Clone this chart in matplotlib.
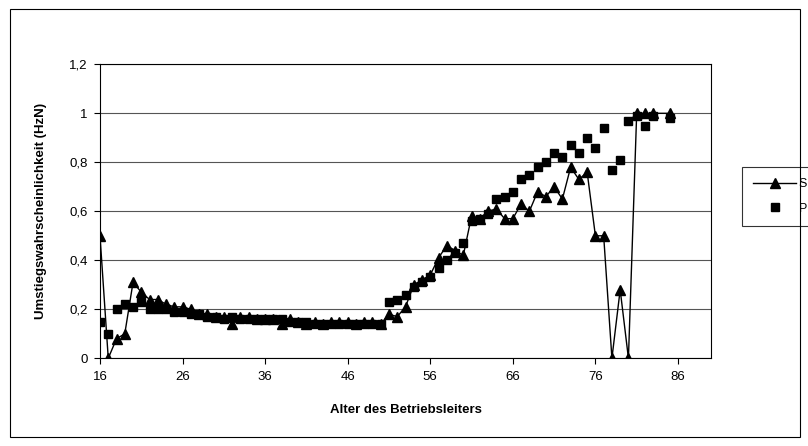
import matplotlib
matplotlib.use('Agg')
import matplotlib.pyplot as plt
from matplotlib.patches import Rectangle

plt.rcParams['font.family'] = ['Liberation Sans', 'DejaVu Sans']

# Alter (84 fehlt in beiden Reihen)
ages = list(range(16, 84)) + [85]

s_values = [0.50, 0.00, 0.08, 0.10, 0.31, 0.27, 0.24, 0.24, 0.22, 0.21,
            0.21, 0.20, 0.18, 0.18, 0.17, 0.17, 0.14, 0.17, 0.17, 0.16,
            0.16, 0.16, 0.14, 0.16, 0.15, 0.14, 0.15, 0.14, 0.15, 0.15,
            0.15, 0.14, 0.15, 0.15, 0.14, 0.18, 0.17, 0.21, 0.30, 0.32,
            0.34, 0.41, 0.46, 0.44, 0.42, 0.58, 0.57, 0.60, 0.61, 0.57,
            0.57, 0.63, 0.60, 0.68, 0.66, 0.70, 0.65, 0.78, 0.73, 0.76,
            0.50, 0.50, 0.00, 0.28, 0.00, 1.00, 1.00, 1.00, 1.00]

p_values = [0.15, 0.10, 0.20, 0.22, 0.21, 0.23, 0.20, 0.20, 0.20, 0.19,
            0.19, 0.18, 0.18, 0.17, 0.17, 0.16, 0.17, 0.16, 0.16, 0.16,
            0.16, 0.16, 0.16, 0.15, 0.15, 0.15, 0.14, 0.14, 0.14, 0.14,
            0.14, 0.14, 0.14, 0.14, 0.14, 0.23, 0.24, 0.26, 0.29, 0.31,
            0.33, 0.37, 0.40, 0.43, 0.47, 0.56, 0.57, 0.59, 0.65, 0.66,
            0.68, 0.73, 0.75, 0.78, 0.80, 0.84, 0.82, 0.87, 0.84, 0.90,
            0.86, 0.94, 0.77, 0.81, 0.97, 0.99, 0.95, 0.99, 0.98]

x_ticks = [16, 26, 36, 46, 56, 66, 76, 86]
y_ticks = [0, 0.2, 0.4, 0.6, 0.8, 1.0, 1.2]
y_tick_labels = ['0', '0,2', '0,4', '0,6', '0,8', '1', '1,2']

fig = plt.figure(figsize=(8.08, 4.46), dpi=100)
ax = fig.add_axes([100 / 808, 1 - 358.3 / 446, 611 / 808, 294 / 446])

ax.plot(ages, s_values, '-', color='black', lw=1, marker='^', ms=7,
        label='S', zorder=3)
ax.plot(ages, p_values, 's', color='black', ms=5.5, label='P', zorder=4)

ax.set_xlim(16, 90)
ax.set_ylim(0, 1.2)
ax.set_xticks(x_ticks)
ax.set_yticks(y_ticks)
ax.set_yticklabels(y_tick_labels)
ax.tick_params(axis='both', direction='out', length=4, width=0.8,
               labelsize=9.5, colors='black', pad=5)
ax.yaxis.grid(True, color='#555555', lw=0.8)
ax.set_axisbelow(True)
for sp in ax.spines.values():
    sp.set_color('black')
    sp.set_linewidth(0.8)

ax.set_xlabel('Alter des Betriebsleiters', fontsize=9.5, fontweight='bold',
              labelpad=15)
ax.set_ylabel('Umstiegswahrscheinlichkeit (HzN)', fontsize=9.5,
              fontweight='bold', labelpad=16)

leg = ax.legend(loc='upper left', bbox_to_anchor=(742 / 808, 1 - 167 / 446),
                bbox_transform=fig.transFigure, frameon=True, fancybox=False,
                edgecolor='black', fontsize=9, handlelength=3.4,
                borderpad=0.9, labelspacing=1.0, handletextpad=0.25,
                borderaxespad=0)
leg.get_frame().set_linewidth(0.8)

fig.patches.append(Rectangle((10 / 808, 9 / 446), 790 / 808, 428 / 446,
                             transform=fig.transFigure, fill=False,
                             edgecolor='black', lw=0.8))

fig.savefig('out.png', dpi=100)
